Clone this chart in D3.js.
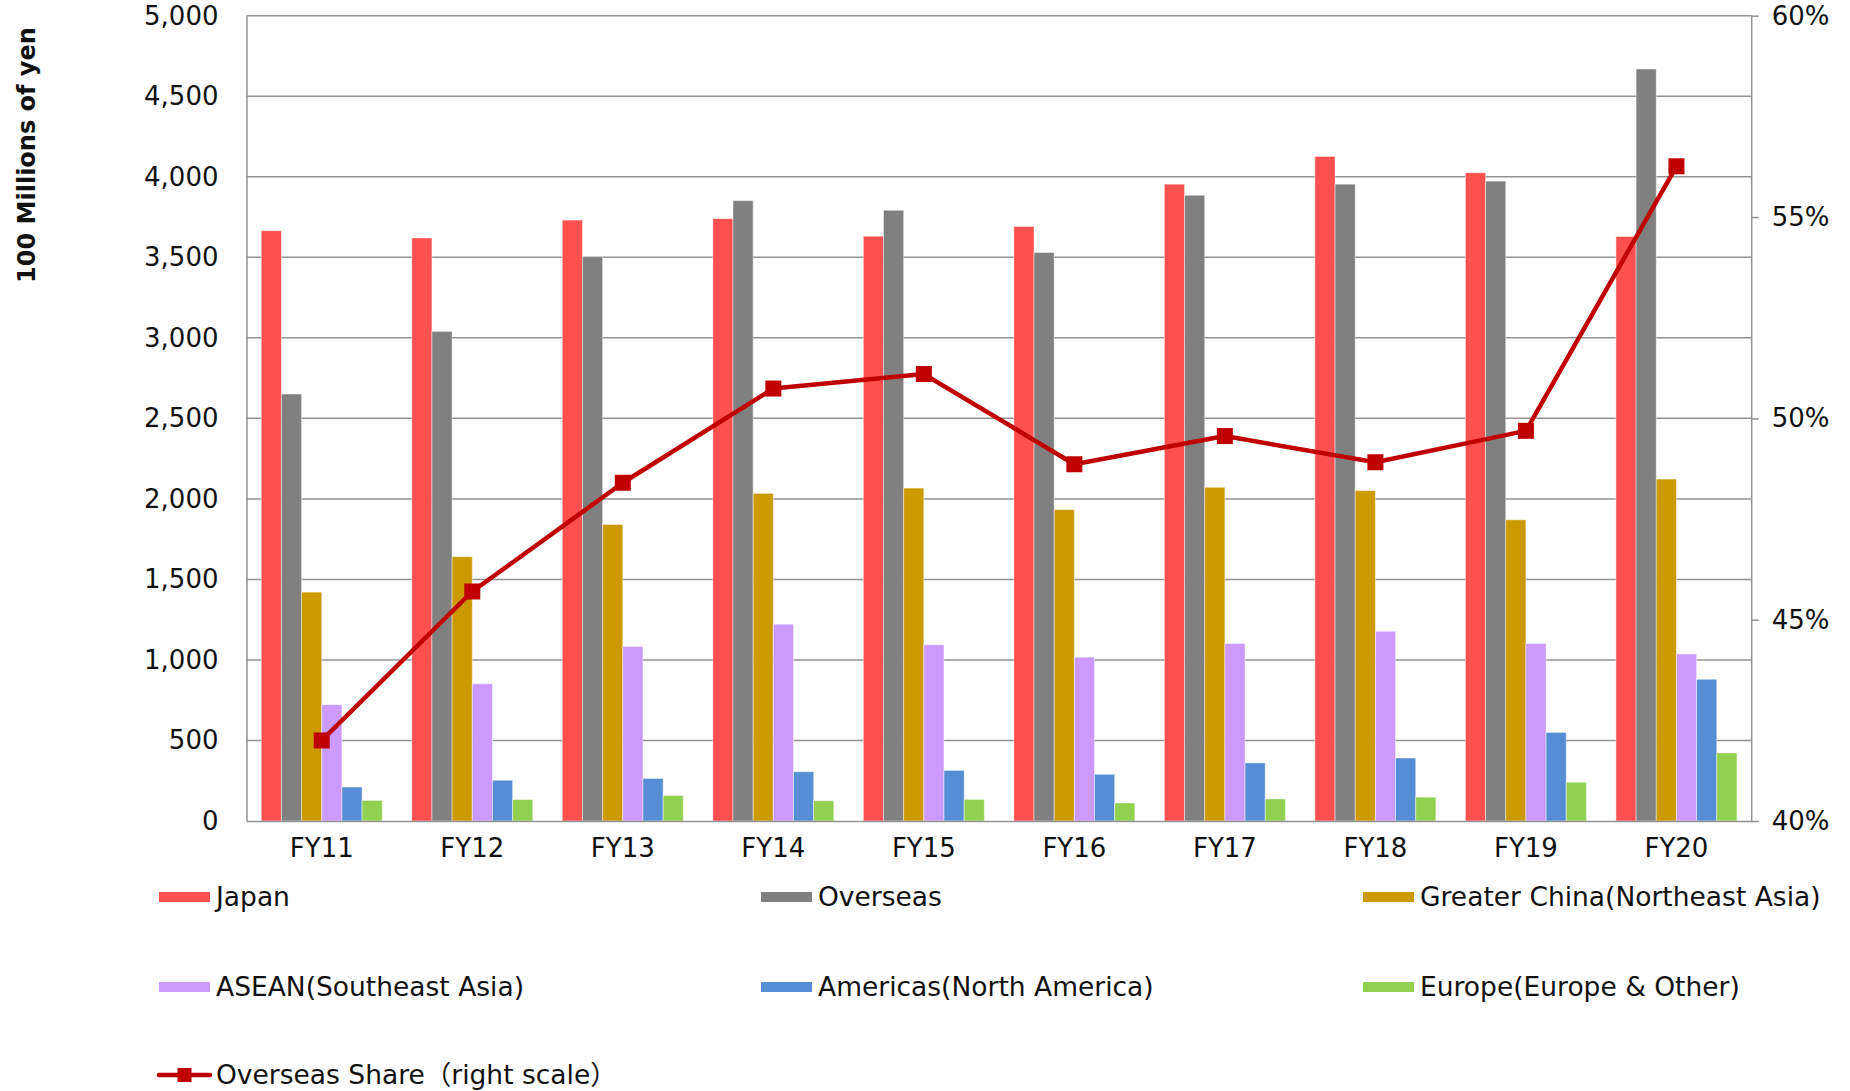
<!DOCTYPE html>
<html>
<head>
<meta charset="utf-8">
<script src="https://cdn.jsdelivr.net/npm/d3@7"></script>
<style>
  html, body { margin: 0; padding: 0; background: #fff; }
  svg { display: block; font-family: "DejaVu Sans", "Noto Sans CJK JP", sans-serif; }
</style>
</head>
<body>
<svg id="chart" width="1850" height="1091"></svg>
<script>
// ---- data ----
const categories = ["FY11","FY12","FY13","FY14","FY15","FY16","FY17","FY18","FY19","FY20"];
const seriesNames = ["Japan","Overseas","Greater China(Northeast Asia)","ASEAN(Southeast Asia)","Americas(North America)","Europe(Europe & Other)"];
const seriesColors = ["#FF5050","#808080","#CC9900","#CC99FF","#558ED5","#92D050"];
const japan        = [3665, 3620, 3731, 3740, 3631, 3691, 3954, 4126, 4025, 3629];
const overseas     = [2651, 3040, 3504, 3852, 3792, 3530, 3885, 3954, 3973, 4669];
const greaterChina = [1421, 1641, 1841, 2034, 2067, 1933, 2072, 2051, 1870, 2123];
const asean        = [ 722,  852, 1083, 1222, 1094, 1017, 1102, 1178, 1102, 1037];
const americas     = [ 211,  253,  264,  306,  314,  290,  361,  391,  550,  880];
const europe       = [ 128,  133,  158,  126,  134,  112,  137,  148,  241,  423];
const overseasShare = [42.0, 45.7, 48.4, 50.74, 51.1, 48.86, 49.56, 48.91, 49.69, 56.26];
const lineName = "Overseas Share（right scale）";
const lineColor = "#C00000";
const leftTicks = [0,500,1000,1500,2000,2500,3000,3500,4000,4500,5000];
const rightTicks = [40,45,50,55,60];
const yTitle = "100 Millions of yen";

const seriesValues = [japan, overseas, greaterChina, asean, americas, europe];

// ---- layout ----
const svg = d3.select("#chart");
const L = 246.5, R = 1751.7, T = 15.7, B = 821;
const gridColor = "#939393";
const textColor = "#111";
const FONT = '"DejaVu Sans", "Noto Sans CJK JP", sans-serif';
const FS = 26;

const x0 = d3.scaleBand().domain(categories).range([L, R]).paddingInner(0.196).paddingOuter(0.098);
const x1 = d3.scaleBand().domain(d3.range(seriesNames.length)).range([0, x0.bandwidth()]).padding(0);
const yL = d3.scaleLinear().domain([0, 5000]).range([B, T]);
const yR = d3.scaleLinear().domain([40, 60]).range([B, T]);

// gridlines
svg.append("g").selectAll("line").data(leftTicks.filter(d => d > 0)).join("line")
  .attr("x1", L).attr("x2", R)
  .attr("y1", d => yL(d)).attr("y2", d => yL(d))
  .attr("stroke", gridColor).attr("stroke-width", 1.5);

// left axis
const leftAxis = svg.append("g").attr("transform", `translate(${L},0)`)
  .call(d3.axisLeft(yL).tickValues(leftTicks).tickSize(0).tickPadding(28).tickFormat(d3.format(",")));
leftAxis.select(".domain").attr("stroke", gridColor).attr("stroke-width", 1.5);
leftAxis.selectAll("text").attr("font-size", FS).attr("fill", textColor).attr("font-family", FONT);

// right axis
const rightAxis = svg.append("g").attr("transform", `translate(${R},0)`)
  .call(d3.axisRight(yR).tickValues(rightTicks).tickSize(7).tickPadding(13).tickFormat(d => d + "%"));
rightAxis.select(".domain").attr("stroke", gridColor).attr("stroke-width", 1.5).attr("d", `M0,${T}V${B}`);
rightAxis.selectAll(".tick line").attr("stroke", gridColor).attr("stroke-width", 1.5);
rightAxis.selectAll("text").attr("font-size", FS).attr("fill", textColor).attr("font-family", FONT);

// bars
const groups = svg.append("g").selectAll("g").data(categories).join("g")
  .attr("transform", d => `translate(${x0(d)},0)`);
groups.selectAll("rect").data((c, ci) => seriesValues.map((vals, si) => ({ si, v: vals[ci] }))).join("rect")
  .attr("x", d => x1(d.si))
  .attr("width", x1.bandwidth())
  .attr("y", d => yL(d.v))
  .attr("height", d => B - yL(d.v))
  .attr("fill", d => seriesColors[d.si])
  .attr("stroke", "rgba(255,255,255,0.45)")
  .attr("stroke-width", 1);

// bottom axis
const bottomAxis = svg.append("g").attr("transform", `translate(0,${B})`)
  .call(d3.axisBottom(x0).tickSize(0).tickPadding(18));
bottomAxis.select(".domain").attr("stroke", gridColor).attr("stroke-width", 1.5);
bottomAxis.selectAll("text").attr("font-size", FS).attr("fill", textColor).attr("font-family", FONT);

// line
const cx = c => x0(c) + x0.bandwidth() / 2;
const lineGen = d3.line().x((d, i) => cx(categories[i])).y(d => yR(d));
svg.append("path").datum(overseasShare)
  .attr("d", lineGen).attr("fill", "none")
  .attr("stroke", lineColor).attr("stroke-width", 4.5).attr("stroke-linejoin", "round");
const ms = 16;
svg.append("g").selectAll("rect").data(overseasShare).join("rect")
  .attr("x", (d, i) => cx(categories[i]) - ms / 2)
  .attr("y", d => yR(d) - ms / 2)
  .attr("width", ms).attr("height", ms)
  .attr("fill", lineColor);

// y-axis title
svg.append("text")
  .attr("transform", `translate(35,155) rotate(-90)`)
  .attr("text-anchor", "middle")
  .attr("font-family", FONT)
  .attr("font-size", 24).attr("font-weight", "bold").attr("fill", textColor)
  .text(yTitle);

// legend
const colX = [159, 761, 1363];
const rowY = [897, 987, 1075];
const legendItems = seriesNames.map((n, i) => ({ name: n, color: seriesColors[i], type: "bar" }))
  .concat([{ name: lineName, color: lineColor, type: "line" }]);
const lg = svg.append("g").selectAll("g").data(legendItems).join("g")
  .attr("transform", (d, i) => `translate(${colX[i % 3]},${rowY[Math.floor(i / 3)]})`);
lg.each(function(d) {
  const g = d3.select(this);
  if (d.type === "bar") {
    g.append("rect").attr("x", 0).attr("y", -5).attr("width", 51).attr("height", 10).attr("fill", d.color);
  } else {
    g.append("line").attr("x1", 0).attr("x2", 51).attr("y1", 0).attr("y2", 0)
      .attr("stroke", d.color).attr("stroke-width", 4.5).attr("stroke-linecap", "round");
    g.append("rect").attr("x", 25.5 - 7).attr("y", -7).attr("width", 14).attr("height", 14).attr("fill", d.color);
  }
  g.append("text").attr("x", 57).attr("y", 0).attr("dy", "0.35em")
    .attr("font-family", FONT)
    .attr("font-size", 26.5).attr("fill", textColor).text(d.name);
});
</script>
</body>
</html>
